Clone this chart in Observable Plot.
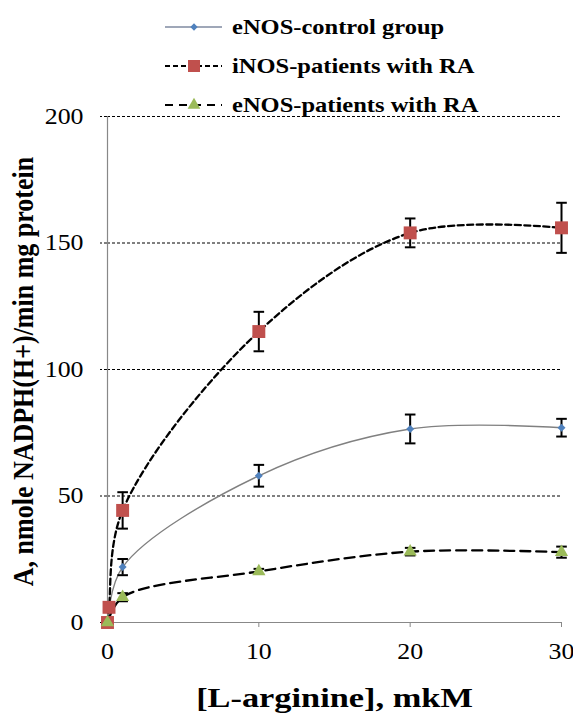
<!DOCTYPE html>
<html>
<head>
<meta charset="utf-8">
<script src="https://cdn.jsdelivr.net/npm/d3@7"></script>
<script src="https://cdn.jsdelivr.net/npm/@observablehq/plot@0.6"></script>
<style>
  body { margin: 0; background: white; }
  #wrap { position: relative; width: 573px; height: 713px; font-family: "Liberation Serif", "Times New Roman", serif; }
  #legend { position: absolute; left: 0; top: 0; z-index: 2; width: 573px; height: 116px; }
  .lrow { position: absolute; left: 0; width: 573px; height: 30px; }
  .lrow svg { position: absolute; left: 163px; top: 0; }
  .lrow span { position: absolute; left: 232px; top: 4px; font-family: "Liberation Serif", serif; font-weight: bold; font-size: 21.5px; line-height: 22px; white-space: nowrap; transform: scaleX(1.14); transform-origin: left center; color: #000; }
  #chart svg text { font-family: "Liberation Serif", serif; }
</style>
</head>
<body>
<div id="wrap">
  <div id="legend"></div>
  <div id="chart"></div>
</div>
<script>
// ---- data ----
const seriesNames = ["eNOS-control group", "iNOS-patients with RA", "eNOS-patients with RA"];

const xControl   = [0, 1, 10, 20, 30];
const yControl   = [0, 21.9, 58, 76.5, 77];
const errControl = [0, 3.2, 4.3, 5.7, 3.5];

const xINOS   = [0, 0.1, 1, 10, 20, 30];
const yINOS   = [0, 6, 44.3, 115, 154, 156];
const errINOS = [0, 0, 7.2, 7.8, 5.7, 9.9];

const xENOSRA   = [0, 1, 10, 20, 30];
const yENOSRA   = [0, 10, 20.2, 28, 27.8];
const errENOSRA = [0, 1.6, 1, 1.5, 2.2];

const xTicks = [0, 10, 20, 30];
const yTicks = [0, 50, 100, 150, 200];
const xLabel = "[L-arginine], mkM";
const yLabel = "A, nmole NADPH(H+)/min mg protein";

// ---- tables ----
const toRows = (xs, ys, es) => xs.map((x, i) => ({x, y: ys[i], e: es[i]}));
const control = toRows(xControl, yControl, errControl);
const inos = toRows(xINOS, yINOS, errINOS);
const enosra = toRows(xENOSRA, yENOSRA, errENOSRA);
const allErr = [...control, ...inos, ...enosra].filter(d => d.e > 0);

const colBlue = "#4F81BD", colRed = "#C0504D", colGreen = "#9BBB59";
const fontFamily = '"Liberation Serif", serif';

const capSymbol = {
  draw(ctx, size) {
    const w = Math.sqrt(size / Math.PI);
    ctx.moveTo(-w, 0);
    ctx.lineTo(w, 0);
  }
};

const chart = Plot.plot({
  width: 573,
  height: 713,
  marginTop: 116,
  marginBottom: 91,
  marginLeft: 107,
  marginRight: 12,
  style: {fontFamily, color: "black", background: "transparent"},
  x: {domain: [0, 30]},
  y: {domain: [0, 200]},
  marks: [
    Plot.gridY(yTicks.filter(d => d > 0), {stroke: "black", strokeOpacity: 1, strokeDasharray: "3,2", strokeWidth: 1}),
    Plot.axisY({ticks: yTicks, tickSize: 7, tickPadding: 17, stroke: "black", strokeDasharray: "3,2", fontSize: 22.5, label: null, tickFormat: d => String(d)}),
    Plot.axisX({ticks: xTicks, tickSize: 5, tickPadding: 16, stroke: "#888", fontSize: 22.5, label: null, tickFormat: d => String(d)}),
    Plot.ruleX([0], {stroke: "#888", strokeWidth: 1.2}),
    Plot.ruleY([0], {stroke: "#888", strokeWidth: 1.2}),
    Plot.line(control, {x: "x", y: "y", curve: "catmull-rom", stroke: "#808080", strokeWidth: 1.4}),
    Plot.line(inos, {x: "x", y: "y", curve: "catmull-rom", stroke: "black", strokeWidth: 2.3, strokeDasharray: "6,3.5"}),
    Plot.line(enosra, {x: "x", y: "y", curve: "catmull-rom", stroke: "black", strokeWidth: 2.3, strokeDasharray: "10,6"}),
    Plot.ruleX(allErr, {x: "x", y1: d => d.y - d.e, y2: d => d.y + d.e, stroke: "black", strokeWidth: 2}),
    Plot.dot(allErr, {x: "x", y: d => d.y + d.e, symbol: capSymbol, r: 5.3, fill: "none", stroke: "black", strokeWidth: 2}),
    Plot.dot(allErr, {x: "x", y: d => d.y - d.e, symbol: capSymbol, r: 5.3, fill: "none", stroke: "black", strokeWidth: 2}),
    Plot.dot(control, {x: "x", y: "y", symbol: "diamond2", r: 3.6, fill: colBlue, stroke: "none"}),
    Plot.dot(inos, {x: "x", y: "y", symbol: "square", r: 7.3, fill: colRed, stroke: "none"}),
    Plot.dot(enosra, {x: "x", y: "y", symbol: "triangle", r: 4.9, fill: colGreen, stroke: "none"}),
    Plot.text([xLabel], {text: d => d, frameAnchor: "bottom", textAnchor: "middle", lineAnchor: "middle", dy: 76, fontSize: 27.5, fontWeight: "bold", fill: "black"}),
    Plot.text([yLabel], {text: d => d, frameAnchor: "left", textAnchor: "middle", lineAnchor: "middle", rotate: -90, dx: -84, dy: 2, fontSize: 26, fontWeight: "bold", fill: "black"})
  ]
});

// horizontal stretch of the text, as in the reference
chart.querySelectorAll("text").forEach(t => {
  t.style.fontFamily = fontFamily;
  const tr = t.getAttribute("transform");
  if (!tr) return;
  const s = t.textContent === xLabel ? 1.25 : 1.15;
  if (tr.includes("rotate")) t.setAttribute("transform", tr + ` scale(1,${s})`);
  else t.setAttribute("transform", tr + ` scale(${s},1)`);
});
document.getElementById("chart").appendChild(chart);

// ---- legend ----
const legendSpec = [
  {name: seriesNames[0], dash: null, stroke: "#7f8aa0", width: 1.5, marker: "diamond", color: colBlue},
  {name: seriesNames[1], dash: "5,3", stroke: "black", width: 2.2, marker: "square", color: colRed},
  {name: seriesNames[2], dash: "8,6", stroke: "black", width: 2.2, marker: "triangle", color: colGreen}
];
const rowTops = [12, 51, 90];
const legend = d3.select("#legend");
legendSpec.forEach((s, i) => {
  const row = legend.append("div").attr("class", "lrow").style("top", rowTops[i] + "px");
  const svg = row.append("svg").attr("width", 62).attr("height", 30);
  svg.append("line").attr("x1", 2).attr("x2", 59).attr("y1", 15).attr("y2", 15)
    .attr("stroke", s.stroke).attr("stroke-width", s.width)
    .attr("stroke-dasharray", s.dash);
  const sym = s.marker === "diamond" ? d3.symbolDiamond2 : s.marker === "square" ? d3.symbolSquare : d3.symbolTriangle;
  const size = s.marker === "diamond" ? 34 : s.marker === "square" ? 144 : 70;
  svg.append("path").attr("transform", "translate(31,15)")
    .attr("d", d3.symbol(sym, size)()).attr("fill", s.color);
  row.append("span").text(s.name);
});
</script>
</body>
</html>
